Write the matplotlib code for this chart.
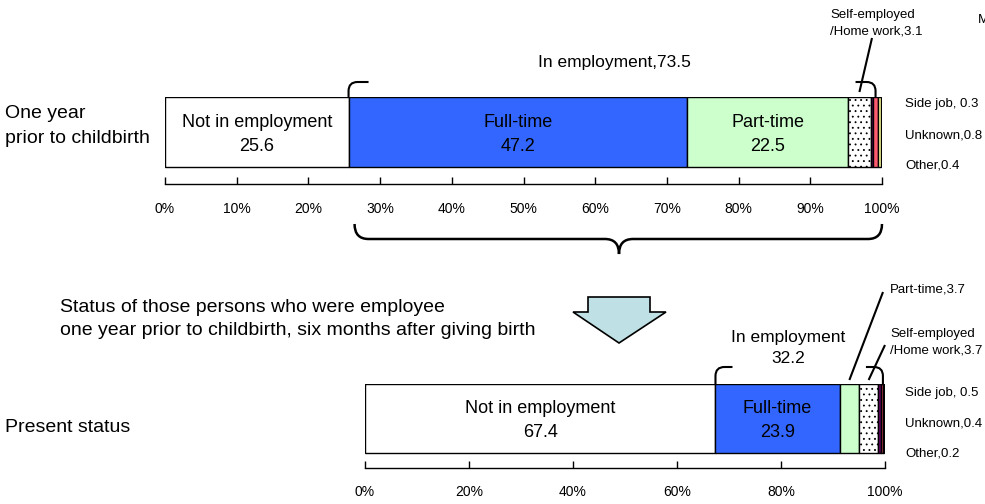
import numpy as np
import matplotlib
matplotlib.use('Agg')
import matplotlib.pyplot as plt
from matplotlib.path import Path
from matplotlib.patches import PathPatch, Polygon

plt.rcParams['font.family'] = ['Liberation Sans', 'DejaVu Sans']

W, H = 985, 504

# share of women (%) by employment status
categories = ['Not in employment', 'Full-time', 'Part-time', 'Self-employed\n/Home work',
              'Side job', 'Unknown', 'Other']
before = [25.6, 47.2, 22.5, 3.1, 0.3, 0.8, 0.4]
after = [67.4, 23.9, 3.7, 3.7, 0.5, 0.4, 0.2]
employed_before = 73.5
employed_after = 32.2
ticks_before = np.arange(0, 101, 10)
ticks_after = np.arange(0, 101, 20)

colors = ['white', '#3366ff', '#ccffcc', 'white', '#660066', '#ff5a6e', '#ffff99']
hatches = [None, None, None, '...', None, None, None]

fig = plt.figure(figsize=(W / 100, H / 100), dpi=100)


def px_axes(x0, x1, y0, y1, **kw):
    return fig.add_axes([x0 / W, 1 - y1 / H, (x1 - x0) / W, (y1 - y0) / H], **kw)


def stacked(ax, values, ticks, n_labels, pad):
    left = 0
    for i, v in enumerate(values):
        ax.barh(0.5, v, left=left, height=1, color=colors[i], edgecolor='black',
                linewidth=1, hatch=hatches[i])
        if i < n_labels:
            name = categories[i]
            ax.text(left + v / 2, 0.47, f'{name}\n{v}', ha='center', va='center',
                    fontsize=13, linespacing=1.55)
        left += v
    ax.set_xlim(0, 100)
    ax.set_xticks(ticks)
    ax.set_xticklabels([f'{t}%' for t in ticks])
    ax.set_yticks([])
    for s in ['top', 'left', 'right']:
        ax.spines[s].set_visible(False)
    ax.spines['bottom'].set_linewidth(1)
    ax.tick_params(axis='x', direction='in', length=5, width=1, labelsize=10, pad=pad)
    ax.patch.set_alpha(0)


plt.rcParams['hatch.linewidth'] = 0.6

# bar row positions in pixels: left, right(100%), bar top, bar bottom, axis line
top_row = (165, 882, 97, 167, 184)
bot_row = (365, 885, 384, 453, 468)

ax1 = px_axes(top_row[0], top_row[1], top_row[2], top_row[4])
ax1.set_ylim(-(top_row[4] - top_row[3]) / (top_row[3] - top_row[2]), 1)
stacked(ax1, before, ticks_before, 3, 13)

ax2 = px_axes(bot_row[0], bot_row[1], bot_row[2], bot_row[4])
ax2.set_ylim(-(bot_row[4] - bot_row[3]) / (bot_row[3] - bot_row[2]), 1)
stacked(ax2, after, ticks_after, 2, 12)

# overlay in pixel coordinates for the notes, braces and arrow
ov = px_axes(0, W, 0, H)
ov.set_xlim(0, W)
ov.set_ylim(H, 0)
ov.axis('off')


def xpos(row, pct):
    return row[0] + (row[1] - row[0]) * pct / 100


def bracket(row, start, span, top, arm):
    x0 = xpos(row, start)
    x1 = xpos(row, start + span)
    y = row[2]
    r = 9
    for xa, d in [(x0, 1), (x1, -1)]:
        verts = [(xa, y), (xa, top + r), (xa, top), (xa + d * r, top), (xa + d * arm, top)]
        codes = [Path.MOVETO, Path.LINETO, Path.CURVE3, Path.CURVE3, Path.LINETO]
        ov.add_patch(PathPatch(Path(verts, codes), fill=False, lw=1.5, ec='black'))


def leader(x0, y0, x1, y1):
    ov.plot([x0, x1], [y0, y1], color='black', lw=1.5, solid_capstyle='butt')


# top row notes
ov.text(5, 126, 'One year\nprior to childbirth', ha='left', va='center', fontsize=14,
        linespacing=1.6)
bracket(top_row, before[0], employed_before, 82, 20)
ov.text(614, 62, f'In employment,{employed_before}', ha='center', va='center', fontsize=12.5)
ov.text(830, 23, f'Self-employed\n/Home work,{before[3]}', ha='left', va='center',
        fontsize=9.5, linespacing=1.5)
seg_c = sum(before[:3]) + before[3] / 2
leader(872, 38, xpos(top_row, seg_c), 92)
for y, name, v in zip([104, 135, 166], ['Side job, ', 'Unknown,', 'Other,'], before[4:]):
    ov.text(905, y, f'{name}{v}', ha='left', va='center', fontsize=9.5)
ov.text(978, 20, 'M', ha='left', va='center', fontsize=9.5)

# curly brace under the first bar
xl = xpos(top_row, before[0]) + 6
xr = xpos(top_row, 100)
xm = 619
yt, yh, yc, r = 224, 239, 254, 14
verts = [(xl, yt), (xl, yh), (xl + r, yh), (xm - r, yh), (xm, yh), (xm, yc),
         (xm, yh), (xm + r, yh), (xr - r, yh), (xr, yh), (xr, yt)]
codes = [Path.MOVETO, Path.CURVE3, Path.CURVE3, Path.LINETO, Path.CURVE3, Path.CURVE3,
         Path.CURVE3, Path.CURVE3, Path.LINETO, Path.CURVE3, Path.CURVE3]
ov.add_patch(PathPatch(Path(verts, codes), fill=False, lw=1.8, ec='black'))

# block arrow
arrow = [(588, 297), (650, 297), (650, 312), (666, 312), (619, 343), (573, 312), (588, 312)]
ov.add_patch(Polygon(arrow, closed=True, fc='#bfe1e5', ec='black', lw=1.2))

ov.text(60, 319, 'Status of those persons who were employee\n'
        'one year prior to childbirth, six months after giving birth',
        ha='left', va='center', fontsize=14, linespacing=1.5)

# bottom row notes
ov.text(5, 428, 'Present status', ha='left', va='center', fontsize=14)
bracket(bot_row, after[0], employed_after, 367, 17)
ov.text(788, 348, f'In employment\n{employed_after}', ha='center', va='center',
        fontsize=12.5, linespacing=1.5)
ov.text(890, 290, f'Part-time,{after[2]}', ha='left', va='center', fontsize=9.5)
ov.text(890, 342, f'Self-employed\n/Home work,{after[3]}', ha='left', va='center',
        fontsize=9.5, linespacing=1.5)
leader(883, 292, xpos(bot_row, sum(after[:2]) + after[2] / 2), 380)
leader(885, 345, xpos(bot_row, sum(after[:3]) + after[3] / 2), 380)
for y, name, v in zip([393, 423, 453], ['Side job, ', 'Unknown,', 'Other,'], after[4:]):
    ov.text(905, y, f'{name}{v}', ha='left', va='center', fontsize=9.5)

fig.savefig('out.png', dpi=100)
